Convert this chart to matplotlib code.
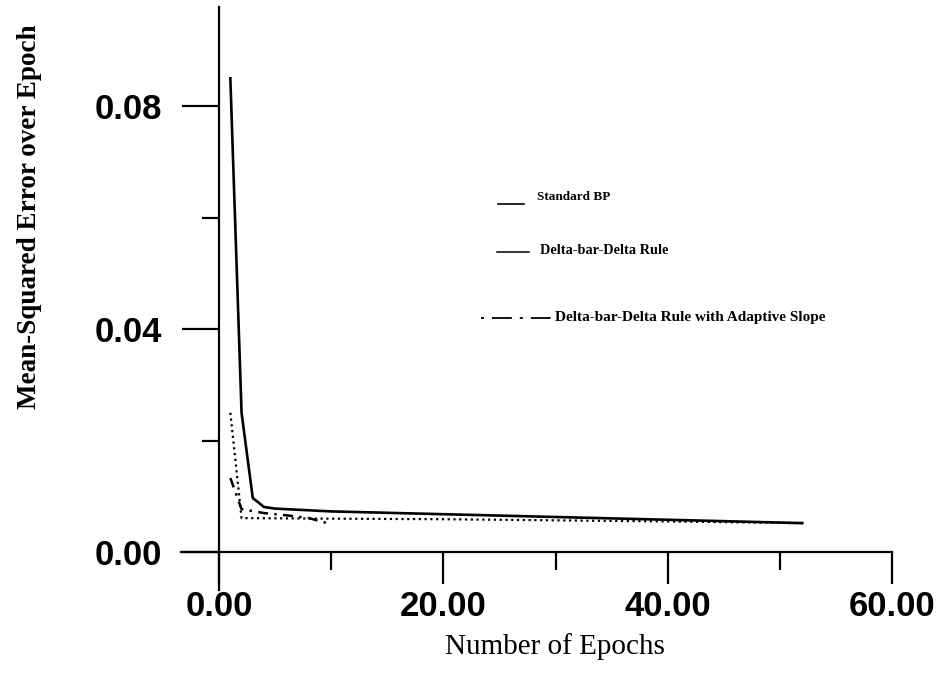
import matplotlib
matplotlib.use("Agg")
import matplotlib.pyplot as plt
from matplotlib.lines import Line2D
from matplotlib.font_manager import FontProperties
from matplotlib.ticker import FixedLocator, FormatStrFormatter

# Training error per epoch for the three learning rules
epochs_bp = [1, 2, 3, 4, 5, 10, 20, 30, 40, 52]
mse_bp = [0.085, 0.025, 0.0097, 0.0081, 0.0078, 0.0073, 0.0068, 0.0063, 0.0058, 0.0052]

epochs_dbd = [1, 2, 10, 20, 30, 40, 52]
mse_dbd = [0.025, 0.0061, 0.0060, 0.0059, 0.0057, 0.0055, 0.0052]

epochs_dbd_slope = [1, 2, 4, 6, 8, 10]
mse_dbd_slope = [0.0133, 0.0077, 0.0070, 0.0066, 0.0061, 0.0050]

series_labels = ["Standard BP", "Delta-bar-Delta Rule",
                 "Delta-bar-Delta Rule with Adaptive Slope"]

x_major = [0, 20, 40, 60]
x_minor = [10, 30, 50]
y_major = [0.00, 0.04, 0.08]
y_minor = [0.02, 0.06]

W, H = 942, 686
fig = plt.figure(figsize=(W / 100, H / 100), dpi=100)
fig.patch.set_facecolor("white")


def fx(px):
    return px / W


def fy(py):
    return 1 - py / H


ax = fig.add_axes([fx(181), fy(590), fx(892) - fx(181), fy(7) - fy(590)])
ax.set_xlim(-3.4, 60)
ax.set_ylim(-0.0068, 0.0978)

ax.plot(epochs_bp, mse_bp, color="black", lw=1.9, solid_joinstyle="miter")
ax.plot(epochs_dbd, mse_dbd, color="black", lw=1.6, linestyle=(0, (1, 1.6)))
ax.plot(epochs_dbd_slope, mse_dbd_slope, color="black", lw=1.8,
        linestyle=(0, (4, 2.5, 1, 2.5)))

# Axis lines crossing at the origin
for side in ("top", "right"):
    ax.spines[side].set_visible(False)
ax.spines["left"].set_position(("data", 0))
ax.spines["bottom"].set_position(("data", 0))
for side in ("left", "bottom"):
    ax.spines[side].set_linewidth(1.6)
    ax.spines[side].set_color("black")

ax.xaxis.set_major_locator(FixedLocator(x_major))
ax.xaxis.set_minor_locator(FixedLocator(x_minor))
ax.yaxis.set_major_locator(FixedLocator(y_major))
ax.yaxis.set_minor_locator(FixedLocator(y_minor))
ax.xaxis.set_major_formatter(FormatStrFormatter("%.2f"))
ax.yaxis.set_major_formatter(FormatStrFormatter("%.2f"))

tick_font = FontProperties(family="Liberation Sans", weight="bold", size=25)
ax.tick_params(axis="x", which="major", direction="out", length=23, width=1.6, pad=4.5)
ax.tick_params(axis="x", which="minor", direction="out", length=13, width=1.6)
ax.tick_params(axis="y", which="major", direction="out", length=27, width=1.6, pad=14)
ax.tick_params(axis="y", which="minor", direction="out", length=12, width=1.6)
for lab in ax.get_xticklabels() + ax.get_yticklabels():
    lab.set_fontproperties(tick_font)

fig.text(fx(555), fy(647), "Number of Epochs", ha="center", va="center",
         family="Liberation Serif", fontsize=21)
fig.text(fx(30), fy(217), "Mean-Squared Error over Epoch", ha="center",
         va="center", rotation=90, family="Liberation Serif",
         fontweight="bold", fontsize=19.5)

# Key drawn beside the curves
key_font = dict(family="Liberation Serif", fontweight="bold",
                va="center", ha="left")
fig.add_artist(Line2D([fx(498), fx(524)], [fy(204), fy(204)], color="black",
                      lw=1.2, transform=fig.transFigure))
fig.text(fx(537), fy(197), series_labels[0], fontsize=9.5, **key_font)

fig.add_artist(Line2D([fx(497), fx(529)], [fy(252), fy(252)], color="black",
                      lw=1.1, transform=fig.transFigure))
fig.text(fx(540), fy(251), series_labels[1], fontsize=10.3, **key_font)

fig.add_artist(Line2D([fx(481), fx(552)], [fy(318), fy(318)], color="black",
                      lw=1.3, linestyle=(0, (1.7, 4.4, 11, 4.4)),
                      transform=fig.transFigure))
fig.text(fx(555), fy(317), series_labels[2], fontsize=11, **key_font)

fig.savefig("out.png", dpi=100, facecolor="white")
